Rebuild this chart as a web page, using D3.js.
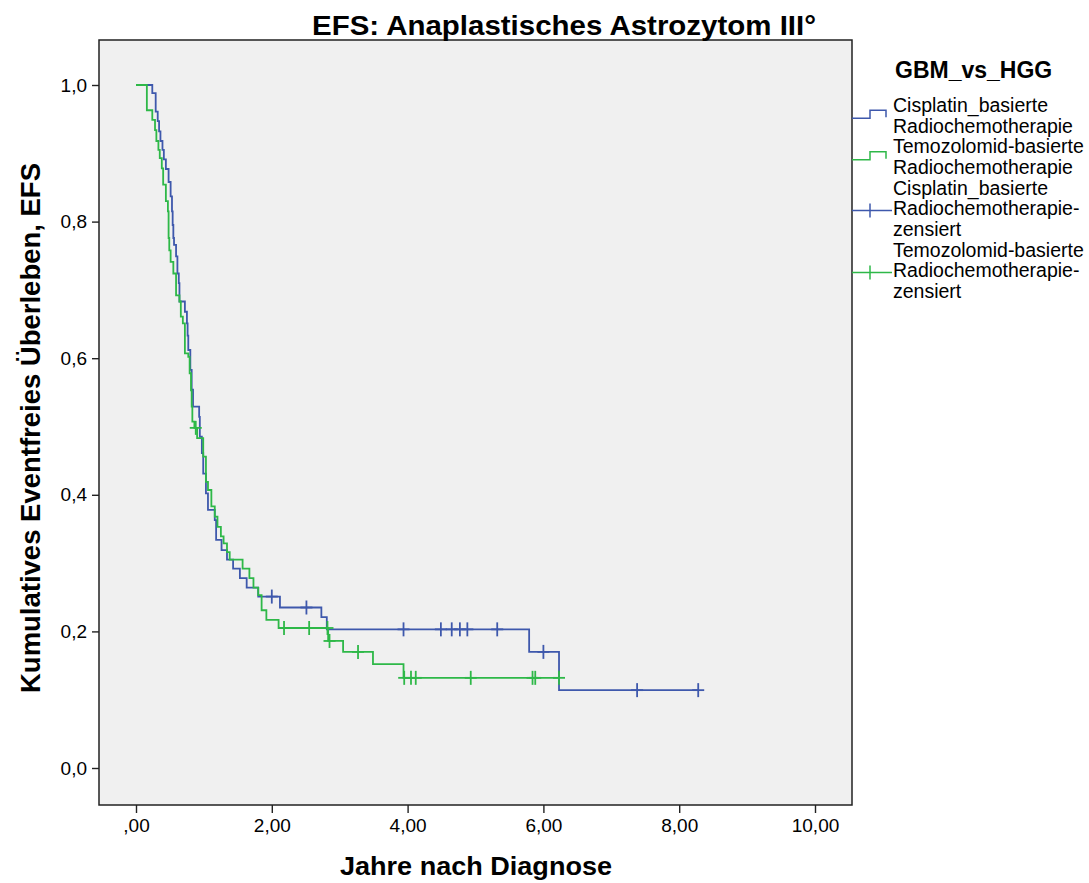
<!DOCTYPE html>
<html>
<head>
<meta charset="utf-8">
<script src="https://cdn.jsdelivr.net/npm/d3@7"></script>
<style>
body { margin: 0; background: #fff; }
text { font-family: "Liberation Sans", Arial, sans-serif; fill: #000; }
</style>
</head>
<body>
<svg id="chart" width="1089" height="883"></svg>
<script>
// Cisplatin_basierte Radiochemotherapie: event times (Jahre) and survival after each event
const cisTimes = [0.24, 0.29, 0.32, 0.34, 0.36, 0.39, 0.41, 0.44, 0.48, 0.51, 0.53, 0.54, 0.55, 0.56, 0.59, 0.61, 0.63, 0.64,
    0.72, 0.75, 0.76, 0.77, 0.80, 0.82, 0.84, 0.93, 0.94, 0.97, 0.99, 1.03, 1.06, 1.16, 1.18, 1.26, 1.34, 1.43, 1.53, 1.63,
    1.80, 2.12, 2.73, 2.81, 5.79, 6.23];
const cisSurv = [0.988, 0.961, 0.947, 0.932, 0.918, 0.905, 0.891, 0.877, 0.858, 0.837, 0.815, 0.795, 0.776, 0.766, 0.749,
    0.724, 0.710, 0.683, 0.668, 0.651, 0.633, 0.612, 0.583, 0.554, 0.529, 0.514, 0.485, 0.461, 0.431, 0.402, 0.378, 0.363,
    0.334, 0.319, 0.305, 0.292, 0.278, 0.264, 0.251, 0.235, 0.221, 0.203, 0.170, 0.114];
const cisCensored = [2.00, 2.51, 3.94, 4.49, 4.65, 4.77, 4.88, 5.32, 6.00, 7.38, 8.28];

// Temozolomid-basierte Radiochemotherapie
const temTimes = [0.16, 0.24, 0.28, 0.30, 0.33, 0.35, 0.38, 0.40, 0.44, 0.47, 0.48, 0.49, 0.51, 0.55, 0.59, 0.64, 0.66,
    0.69, 0.72, 0.77, 0.79, 0.81, 0.82, 0.83, 0.86, 0.90, 0.99, 1.03, 1.06, 1.11, 1.16, 1.20, 1.25, 1.29, 1.34, 1.38, 1.57,
    1.67, 1.73, 1.80, 1.85, 1.92, 2.10, 2.83, 3.05, 3.49, 3.94];
const temSurv = [0.963, 0.949, 0.934, 0.918, 0.905, 0.893, 0.878, 0.854, 0.830, 0.815, 0.776, 0.758, 0.741, 0.724, 0.692,
    0.683, 0.661, 0.651, 0.607, 0.602, 0.578, 0.553, 0.529, 0.507, 0.498, 0.483, 0.456, 0.419, 0.407, 0.383, 0.368, 0.353,
    0.339, 0.329, 0.316, 0.305, 0.292, 0.278, 0.264, 0.253, 0.231, 0.217, 0.205, 0.186, 0.170, 0.152, 0.132];
const temCensored = [0.88, 2.18, 2.55, 2.82, 2.85, 3.27, 3.95, 4.05, 4.12, 4.93, 5.84, 5.88, 6.23];

const xTicks = [0, 2, 4, 6, 8, 10];
const yTicks = [0, 0.2, 0.4, 0.6, 0.8, 1.0];

const titleText = "EFS: Anaplastisches Astrozytom III°";
const xTitle = "Jahre nach Diagnose";
const yTitle = "Kumulatives Eventfreies Überleben, EFS";
const legendTitle = "GBM_vs_HGG";
const legendItems = [
    ["Cisplatin_basierte", "Radiochemotherapie"],
    ["Temozolomid-basierte", "Radiochemotherapie"],
    ["Cisplatin_basierte", "Radiochemotherapie-", "zensiert"],
    ["Temozolomid-basierte", "Radiochemotherapie-", "zensiert"]
];

const blue = "#3E58AC", green = "#2EB848";

// frame of the plot area
const frame = {left: 99, right: 852, top: 40, bottom: 805};

const svg = d3.select("#chart");

const x = d3.scaleLinear().domain([0, 10]).range([136, 815]);
const y = d3.scaleLinear().domain([0, 1]).range([768, 85]);

svg.append("rect")
    .attr("x", frame.left).attr("y", frame.top)
    .attr("width", frame.right - frame.left)
    .attr("height", frame.bottom - frame.top)
    .attr("fill", "#f0f0f0");

// axes
const xAxis = d3.axisBottom(x)
    .tickValues(xTicks)
    .tickSize(8)
    .tickPadding(6)
    .tickFormat(d => d === 0 ? ",00" : d3.format(".2f")(d).replace(".", ","));

const yAxis = d3.axisLeft(y)
    .tickValues(yTicks)
    .tickSize(7)
    .tickPadding(5)
    .tickFormat(d => d3.format(".1f")(d).replace(".", ","));

const gx = svg.append("g").attr("transform", `translate(0,${frame.bottom})`).call(xAxis);
const gy = svg.append("g").attr("transform", `translate(${frame.left},0)`).call(yAxis);

[gx, gy].forEach(g => {
    g.select(".domain").remove();
    g.selectAll("line").attr("stroke", "#222").attr("stroke-width", 1.4);
    g.selectAll("text")
        .style("font-family", '"Liberation Sans", Arial, sans-serif')
        .style("font-size", "19px")
        .attr("fill", "#111");
});

// survival step curves
function stepPoints(times, surv, censored) {
    const pts = [[0, 1]];
    times.forEach((t, i) => pts.push([t, surv[i]]));
    const last = d3.max([d3.max(times), d3.max(censored)]);
    pts.push([last, surv[surv.length - 1]]);
    return pts;
}

function survAt(times, surv, t) {
    const i = d3.bisectRight(times, t);
    return i === 0 ? 1 : surv[i - 1];
}

const line = d3.line()
    .x(d => x(d[0]))
    .y(d => y(d[1]))
    .curve(d3.curveStepAfter);

const groups = [
    {times: cisTimes, surv: cisSurv, censored: cisCensored, color: blue},
    {times: temTimes, surv: temSurv, censored: temCensored, color: green}
];

groups.forEach(g => {
    svg.append("path")
        .datum(stepPoints(g.times, g.surv, g.censored))
        .attr("d", line)
        .attr("fill", "none")
        .attr("stroke", g.color)
        .attr("stroke-width", 1.8);
});

// censor marks (+)
groups.forEach(g => {
    const marks = svg.append("g")
        .selectAll("g")
        .data(g.censored)
        .join("g")
        .attr("transform", d => `translate(${x(d)},${y(survAt(g.times, g.surv, d))})`);
    marks.append("line")
        .attr("x1", 0).attr("x2", 0).attr("y1", -7).attr("y2", 7)
        .attr("stroke", g.color).attr("stroke-width", 1.8);
    marks.append("line")
        .attr("x1", -6).attr("x2", 6).attr("y1", 0).attr("y2", 0)
        .attr("stroke", g.color).attr("stroke-width", 1.8);
});

// frame border
svg.append("rect")
    .attr("x", frame.left).attr("y", frame.top)
    .attr("width", frame.right - frame.left)
    .attr("height", frame.bottom - frame.top)
    .attr("fill", "none")
    .attr("stroke", "#222")
    .attr("stroke-width", 1.5);

// titles
svg.append("text")
    .attr("x", 312).attr("y", 35)
    .attr("textLength", 504).attr("lengthAdjust", "spacingAndGlyphs")
    .style("font-size", "28px").style("font-weight", "bold")
    .text(titleText);

svg.append("text")
    .attr("x", 340).attr("y", 875)
    .attr("textLength", 272).attr("lengthAdjust", "spacingAndGlyphs")
    .style("font-size", "26px").style("font-weight", "bold")
    .text(xTitle);

svg.append("text")
    .attr("transform", "translate(40,693) rotate(-90)")
    .attr("textLength", 530).attr("lengthAdjust", "spacingAndGlyphs")
    .style("font-size", "27px").style("font-weight", "bold")
    .text(yTitle);

// legend
const legend = svg.append("g");
legend.append("text")
    .attr("x", 895).attr("y", 78)
    .style("font-size", "23px").style("font-weight", "bold")
    .text(legendTitle);

const lineH = 20.7;
let row = 0;
const legendStart = 105;
legendItems.forEach((lines, i) => {
    const top = legendStart + row * lineH;
    lines.forEach((s, j) => {
        legend.append("text")
            .attr("x", 893).attr("y", top + j * lineH)
            .attr("dy", "0.35em")
            .style("font-size", "19.5px")
            .text(s);
    });
    const color = i % 2 === 0 ? blue : green;
    if (i < 2) {
        const yc = top + lineH / 2;
        legend.append("path")
            .attr("d", `M852,${yc + 3}H870V${yc - 5}H886V${yc + 2}`)
            .attr("fill", "none").attr("stroke", color).attr("stroke-width", 1.5);
    } else {
        const yc = top + lineH + 2;
        legend.append("line")
            .attr("x1", 852).attr("x2", 892).attr("y1", yc).attr("y2", yc)
            .attr("stroke", color).attr("stroke-width", 1.5);
        legend.append("line")
            .attr("x1", 870).attr("x2", 870).attr("y1", yc - 7).attr("y2", yc + 7)
            .attr("stroke", color).attr("stroke-width", 1.5);
    }
    row += lines.length;
});
</script>
</body>
</html>
